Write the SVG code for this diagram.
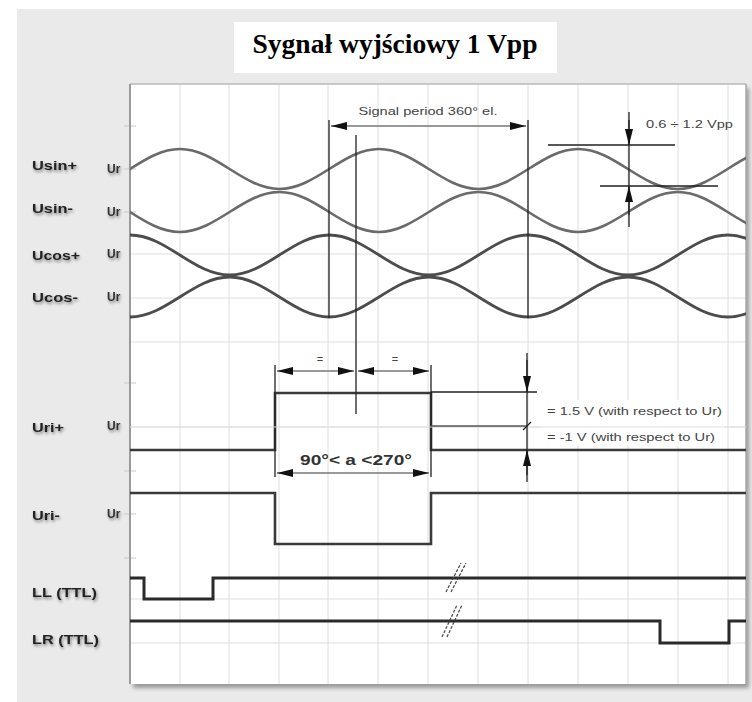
<svg xmlns="http://www.w3.org/2000/svg" width="752" height="702" viewBox="0 0 752 702">
<style>
.lbl{font-family:"Liberation Sans",Arial,sans-serif;font-weight:bold;font-size:13px;fill:#222;}
.ur{font-family:"Liberation Sans",Arial,sans-serif;font-weight:bold;font-size:12px;fill:#333;}
.note{font-family:"Liberation Sans",Arial,sans-serif;font-size:11px;fill:#444;}
.grid{stroke:#dedede;stroke-width:1;fill:none;}
.tick{stroke:#c8c8c8;stroke-width:1;}
.sin{fill:none;stroke:#6a6a6a;stroke-width:2.6;}
.cos{fill:none;stroke:#4c4c4c;stroke-width:2.8;}
.sq{fill:none;stroke:#3a3a3a;stroke-width:2.6;}
.ttl{fill:none;stroke:#2a2a2a;stroke-width:3;}
.ann{stroke:#222;stroke-width:1.3;fill:none;}
.dim{stroke:#777;stroke-width:1.6;fill:none;}
</style>
<defs>
<marker id="ah" markerUnits="userSpaceOnUse" markerWidth="17" markerHeight="8" refX="16" refY="4" orient="auto-start-reverse">
<path d="M0,0 L16,4 L0,8 z" fill="#111"/>
</marker>
<clipPath id="plot"><rect x="130" y="84" width="616" height="600"/></clipPath>
<filter id="sh" x="-20%" y="-40%" width="150%" height="200%">
<feGaussianBlur in="SourceAlpha" stdDeviation="1.8"/>
<feOffset dx="1" dy="2" result="b"/>
<feComponentTransfer><feFuncA type="linear" slope="0.45"/></feComponentTransfer>
<feMerge><feMergeNode/><feMergeNode in="SourceGraphic"/></feMerge>
</filter>
<filter id="psh" x="-5%" y="-5%" width="110%" height="110%">
<feGaussianBlur in="SourceAlpha" stdDeviation="2"/>
<feOffset dx="3" dy="4"/>
<feComponentTransfer><feFuncA type="linear" slope="0.35"/></feComponentTransfer>
<feMerge><feMergeNode/><feMergeNode in="SourceGraphic"/></feMerge>
</filter>
</defs>

<rect x="0" y="0" width="752" height="702" fill="#ffffff"/>
<rect x="17" y="9" width="735" height="693" fill="#eaeaea"/>

<g id="title">
<rect x="234" y="22" width="323" height="51" fill="#ffffff"/>
<text x="395" y="53" text-anchor="middle" font-family="'Liberation Serif','Times New Roman',serif" font-weight="bold" font-size="28" fill="#000" textLength="285" lengthAdjust="spacingAndGlyphs">Sygnał wyjściowy 1 Vpp</text>
</g>

<g id="plot-area">
<rect x="130" y="84" width="616" height="600" fill="#ffffff" filter="url(#psh)"/>
<g class="grid">
<path d="M180,84V684M229,84V684M279,84V684M328,84V684M378,84V684M428,84V684M478,84V684M528,84V684M578,84V684M628,84V684M678,84V684M728,84V684"/>
<path d="M130,254H746M130,298H746M130,342H746M130,427H746M130,599H746M130,643H746"/>
</g>
<g class="tick">
<path d="M124,126H136M124,169H136M124,212H136M124,383H136M124,471H136M124,514H136M124,558H136"/>
</g>
<path d="M130,84H746" stroke="#b8b8b8" stroke-width="1.5"/>
<path d="M130,84V684" stroke="#9a9a9a" stroke-width="2"/>
<path d="M746,84V684" stroke="#a8a8a8" stroke-width="1.5"/>
</g>

<g id="labels">
<g filter="url(#sh)">
<text class="lbl" x="32" y="170" textLength="45" lengthAdjust="spacingAndGlyphs">Usin+</text>
<text class="lbl" x="32" y="213" textLength="41" lengthAdjust="spacingAndGlyphs">Usin-</text>
<text class="lbl" x="32" y="260" textLength="48" lengthAdjust="spacingAndGlyphs">Ucos+</text>
<text class="lbl" x="32" y="302" textLength="46" lengthAdjust="spacingAndGlyphs">Ucos-</text>
<text class="lbl" x="32" y="432" textLength="32" lengthAdjust="spacingAndGlyphs">Uri+</text>
<text class="lbl" x="32" y="520" textLength="28" lengthAdjust="spacingAndGlyphs">Uri-</text>
<text class="lbl" x="32" y="597" textLength="65" lengthAdjust="spacingAndGlyphs">LL (TTL)</text>
<text class="lbl" x="32" y="644" textLength="67" lengthAdjust="spacingAndGlyphs">LR (TTL)</text>
<text class="ur" x="107" y="173">Ur</text>
<text class="ur" x="107" y="216">Ur</text>
<text class="ur" x="107" y="258">Ur</text>
<text class="ur" x="107" y="301">Ur</text>
<text class="ur" x="107" y="430">Ur</text>
<text class="ur" x="107" y="518">Ur</text>
</g>
</g>

<g id="signals" clip-path="url(#plot)">
<path id="usin-plus" class="sin" d="M80.2,189 C116.4,189 143.6,149 179.8,149 S243.2,189 279.4,189 S342.8,149 379,149 S442.4,189 478.6,189 S542,149 578.2,149 S641.6,189 677.8,189 S741.2,149 777.4,149"/>
<path id="usin-minus" class="sin" d="M80.2,192 C116.4,192 143.6,232 179.8,232 S243.2,192 279.4,192 S342.8,232 379,232 S442.4,192 478.6,192 S542,232 578.2,232 S641.6,192 677.8,192 S741.2,232 777.4,232"/>
<path id="ucos-plus" class="cos" d="M130,235 C166.2,235 193.4,275 229.6,275 S293,235 329.2,235 S392.6,275 428.8,275 S492.2,235 528.4,235 S591.8,275 628,275 S691.4,235 727.6,235 S791,275 827.2,275"/>
<path id="ucos-minus" class="cos" d="M130,317 C166.2,317 193.4,277 229.6,277 S293,317 329.2,317 S392.6,277 428.8,277 S492.2,317 528.4,317 S591.8,277 628,277 S691.4,317 727.6,317 S791,277 827.2,277"/>
<path id="uri-plus" class="sq" d="M130,450 H275 V393 H431 V450 H746"/>
<path id="uri-minus" class="sq" d="M130,493 H275 V544 H431 V493 H746"/>
<path id="ll" class="ttl" d="M130,578 H144 V599 H213 V578 H746"/>
<path id="lr" class="ttl" d="M130,621 H660 V643 H729 V621 H746"/>
</g>

<g id="connectors">
<!-- signal period -->
<path class="ann" d="M329,120V318M528,120V318M356,135V414"/>
<line class="dim" x1="331" y1="126" x2="526" y2="126" marker-start="url(#ah)" marker-end="url(#ah)"/>
<text class="note" x="428" y="115" text-anchor="middle" textLength="139" lengthAdjust="spacingAndGlyphs">Signal period 360° el.</text>

<!-- amplitude 0.6..1.2 Vpp -->
<path class="ann" d="M548,145H675M600,186H718M629,112V227"/>
<line class="ann" x1="629" y1="120" x2="629" y2="145" marker-end="url(#ah)"/>
<line class="ann" x1="629" y1="215" x2="629" y2="186" marker-end="url(#ah)"/>
<text class="note" x="646" y="128" textLength="87" lengthAdjust="spacingAndGlyphs">0.6 ÷ 1.2 Vpp</text>

<!-- Uri dimensions -->
<path class="ann" d="M275,365V477M431,365V477"/>
<line class="dim" x1="277" y1="371" x2="354" y2="371" marker-start="url(#ah)" marker-end="url(#ah)"/>
<line class="dim" x1="358" y1="371" x2="429" y2="371" marker-start="url(#ah)" marker-end="url(#ah)"/>
<text class="note" x="320" y="363" text-anchor="middle">=</text>
<text class="note" x="395" y="363" text-anchor="middle">=</text>
<line class="dim" x1="277" y1="473" x2="429" y2="473" marker-start="url(#ah)" marker-end="url(#ah)"/>
<text x="356" y="465" text-anchor="middle" font-family="'Liberation Sans',Arial,sans-serif" font-weight="bold" font-size="15" fill="#333" textLength="112" lengthAdjust="spacingAndGlyphs">90°&lt; a &lt;270°</text>

<!-- Uri levels -->
<rect x="540" y="400" width="185" height="46" fill="#ffffff"/>
<path d="M130,427H746" stroke="#dedede" stroke-width="1"/>
<path class="ann" d="M431,392H537"/>
<path d="M431,426H527" stroke="#555" stroke-width="1.3"/>
<path class="ann" d="M527,353V482"/>
<line class="ann" x1="527" y1="360" x2="527" y2="392" marker-end="url(#ah)"/>
<line class="ann" x1="527" y1="475" x2="527" y2="450" marker-end="url(#ah)"/>
<path d="M523,430L531,422" stroke="#222" stroke-width="1.3"/>
<text class="note" x="547" y="415" textLength="175" lengthAdjust="spacingAndGlyphs">= 1.5 V (with respect to Ur)</text>
<text class="note" x="547" y="441" textLength="168" lengthAdjust="spacingAndGlyphs">= -1 V (with respect to Ur)</text>

<!-- break marks -->
<path d="M446,592L461,563M451,592L466,563" stroke="#444" stroke-width="1.2" stroke-dasharray="3,1.5"/>
<path d="M442,637L457,605M447,637L462,605" stroke="#444" stroke-width="1.2" stroke-dasharray="3,1.5"/>
</g>
</svg>
